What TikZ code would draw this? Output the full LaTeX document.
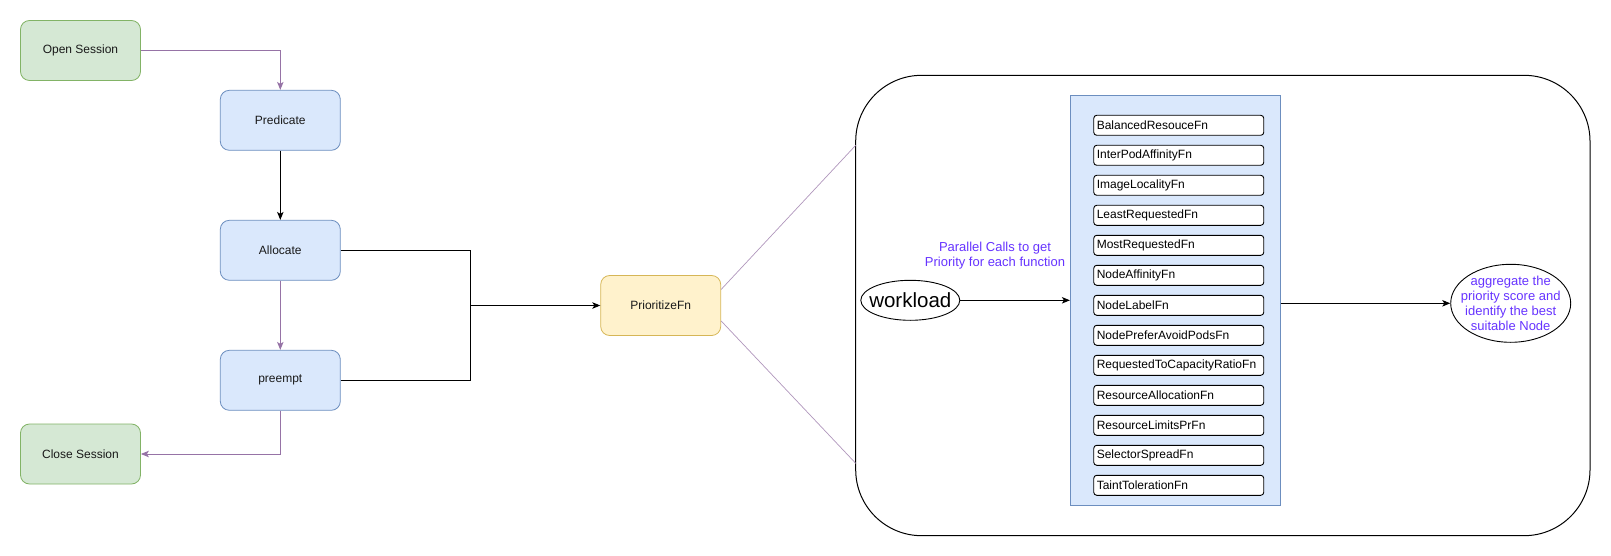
\documentclass[tikz,border=0pt]{standalone}
\usepackage{fontspec}
\setmainfont{Liberation Sans}
\usetikzlibrary{shapes.geometric,arrows.meta,calc}
\definecolor{gfill}{HTML}{D5E8D4}
\definecolor{gline}{HTML}{82B366}
\definecolor{bfill}{HTML}{DAE8FC}
\definecolor{bline}{HTML}{6C8EBF}
\definecolor{yfill}{HTML}{FFF2CC}
\definecolor{yline}{HTML}{D6B656}
\definecolor{purp}{HTML}{9673A6}
\definecolor{vio}{HTML}{6633FF}
\tikzset{
  base/.style={font=\fontsize{12}{14.4}\selectfont, text=black!90},
  violet/.style={font=\fontsize{13}{14.8}\selectfont, text=vio, align=center},
  gbox/.style={base, draw=gline, fill=gfill, line width=0.8pt, rounded corners=9pt, minimum width=120pt, minimum height=60pt},
  bbox/.style={base, draw=bline, fill=bfill, line width=0.8pt, rounded corners=9pt, minimum width=120pt, minimum height=60pt},
  ybox/.style={base, draw=yline, fill=yfill, line width=0.8pt, rounded corners=9pt, minimum width=120pt, minimum height=60pt},
  fnbox/.style={base, text=black, draw=black, fill=white, line width=0.9pt, rounded corners=3pt, minimum height=20pt, text width=164pt, align=left, inner xsep=3pt, inner ysep=0pt, anchor=west},
  tip/.style={-{Stealth[length=8pt,width=6.5pt,inset=2pt]}},
  pline/.style={purp, line width=1pt, tip},
  kline/.style={black, line width=1pt, tip},
  thinp/.style={purp!75, line width=0.7pt},
}
\begin{document}
\begin{tikzpicture}[x=1pt,y=-1pt]
\useasboundingbox (0,0) rectangle (1611,556);
% left flow
\node[gbox] (open) at (80.5,50.5) {Open Session};
\node[bbox] (pred) at (280.3,120.3) {Predicate};
\node[bbox] (alloc) at (280.3,250.3) {Allocate};
\node[bbox] (pre) at (280.3,380.3) {preempt};
\node[gbox] (close) at (80.5,454) {Close Session};
\node[ybox] (prio) at (660.7,305.5) {PrioritizeFn};
\coordinate (j) at (470.3,305.5);
\draw[pline] (open.east) -| (pred.north);
\draw[kline] (pred.south) -- (alloc.north);
\draw[pline] (alloc.south) -- (pre.north);
\draw[pline] (pre.south) |- (close.east);
\draw[black, line width=1pt] (alloc.east) -| (j);
\draw[black, line width=1pt] (pre.east) -| (j);
\draw[kline] (j) -- (prio.west);
% outer container
\node[draw=black, line width=1pt, rounded corners=66pt, minimum width=734.3pt, minimum height=460.4pt] (outer) at (1222.85,305.5) {};
\coordinate (u1) at (855.7,145.3);
\coordinate (u2) at (855.7,463.3);
\draw[thinp] ($(prio.east)+(0,-16)$) -- (u1);
\draw[thinp] ($(prio.east)+(0,15.4)$) -- (u2);
% function container
\node[draw=bline, fill=bfill, line width=0.8pt, minimum width=210pt, minimum height=410.7pt] (cont) at (1175.3,300.35) {};
\foreach \t [count=\i] in {BalancedResouceFn,InterPodAffinityFn,ImageLocalityFn,LeastRequestedFn,MostRequestedFn,NodeAffinityFn,NodeLabelFn,NodePreferAvoidPodsFn,RequestedToCapacityRatioFn,ResourceAllocationFn,ResourceLimitsPrFn,SelectorSpreadFn,TaintTolerationFn}
  \node[fnbox] (f\i) at (1093.3,{125.3+30*(\i-1)}) {\t};
% workload & result
\node[ellipse, draw=black, line width=0.9pt, minimum width=99pt, minimum height=40pt, inner sep=0pt,
  label={[base, text=black, font=\fontsize{20.5}{24}\selectfont]center:workload}] (work) at (910.3,300.3) {};
\node[ellipse, draw=black, line width=0.9pt, minimum width=120pt, minimum height=78pt, inner sep=0pt,
  label={[violet]center:aggregate the\\priority score and\\identify the best\\suitable Node}] (agg) at (1510.7,303.3) {};
\draw[kline] (work.east) -- (cont.west |- work.east);
\node[violet] (plabel) at (995,256) {Parallel Calls to get\\Priority for each function};
\draw[kline] (cont.east |- agg.west) -- (agg.west);
\end{tikzpicture}
\end{document}
